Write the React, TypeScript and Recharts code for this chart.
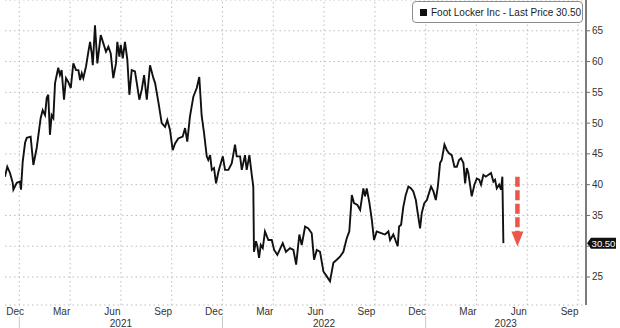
import { LineChart, Line, XAxis, YAxis, CartesianGrid, ReferenceLine, Legend } from 'recharts';

// time axis is in months since 1 Jan 2021 (fractional)
const priceMonths = [
  -0.85, -0.71, -0.55, -0.39, -0.35, -0.15, 0.04, 0.1, 0.2, 0.34,
  0.44, 0.67, 0.83, 1.03, 1.26, 1.38, 1.52, 1.62, 1.71, 1.81,
  1.91, 2.01, 2.11, 2.3, 2.4, 2.5, 2.64, 2.76, 2.89, 3.04,
  3.19, 3.35, 3.49, 3.59, 3.69, 3.78, 3.94, 4.08, 4.18, 4.28,
  4.34, 4.47, 4.61, 4.81, 4.96, 5.12, 5.26, 5.4, 5.55, 5.71,
  5.79, 5.91, 5.99, 6.11, 6.24, 6.38, 6.5, 6.64, 6.83, 6.94,
  7.09, 7.23, 7.37, 7.53, 7.72, 7.92, 8.02, 8.21, 8.41, 8.61,
  8.74, 8.9, 9.06, 9.2, 9.39, 9.65, 9.79, 9.92, 10.08, 10.28,
  10.48, 10.63, 10.77, 10.91, 11.07, 11.16, 11.27, 11.37, 11.5, 11.62,
  11.76, 12.02, 12.15, 12.35, 12.55, 12.74, 12.84, 13.04, 13.14, 13.33,
  13.43, 13.59, 13.73, 13.82, 13.86, 13.98, 14.06, 14.16, 14.26, 14.38,
  14.51, 14.71, 14.91, 15.05, 15.24, 15.56, 15.75, 15.99, 16.19, 16.35,
  16.54, 16.68, 16.88, 17.07, 17.27, 17.41, 17.57, 17.76, 17.96, 18.16,
  18.35, 18.55, 18.75, 18.94, 19.14, 19.34, 19.49, 19.64, 19.77, 19.97,
  20.13, 20.32, 20.42, 20.52, 20.68, 20.82, 20.95, 21.11, 21.41, 21.6,
  21.8, 21.9, 22.09, 22.35, 22.43, 22.55, 22.68, 22.82, 22.98, 23.14,
  23.27, 23.42, 23.53, 23.67, 23.77, 23.92, 24.07, 24.16, 24.32, 24.46,
  24.6, 24.72, 24.85, 24.95, 25.11, 25.25, 25.38, 25.54, 25.7, 25.84,
  25.97, 26.09, 26.23, 26.33, 26.43, 26.52, 26.62, 26.72, 26.88, 27.02,
  27.16, 27.27, 27.41, 27.55, 27.71, 27.86, 28.0, 28.1, 28.2, 28.34,
  28.45, 28.53, 28.59,
];

const prices = [
  41.3, 42.9, 41.9, 40.3, 39.2, 40.3, 40.5, 39.2, 43.7, 46.8,
  47.6, 47.8, 43.2, 46.0, 50.8, 52.1, 51.3, 54.1, 54.6, 48.1,
  51.3, 50.8, 56.5, 59.0, 57.8, 58.6, 53.8, 57.3, 56.7, 55.7,
  59.7, 58.6, 58.6, 57.0, 58.1, 57.3, 59.2, 61.6, 63.2, 61.3,
  59.4, 65.9, 59.7, 64.3, 63.0, 61.6, 62.4, 61.3, 57.3, 59.7,
  63.2, 60.8, 62.7, 60.5, 63.2, 60.3, 54.6, 58.6, 58.4, 56.5,
  53.8, 55.4, 57.8, 53.8, 59.4, 57.3, 56.5, 53.5, 50.0, 49.4,
  50.5, 48.9, 45.6, 46.7, 47.5, 47.8, 49.2, 47.0, 51.1, 54.3,
  55.7, 57.5, 51.2, 48.4, 44.6, 44.0, 44.8, 42.4, 42.7, 40.2,
  42.1, 44.6, 42.4, 42.4, 43.5, 46.5, 44.6, 44.6, 42.4, 44.8,
  42.4, 44.8, 41.6, 39.7, 29.1, 30.8, 30.0, 28.1, 30.2, 29.7,
  32.4, 31.0, 31.0, 29.4, 28.6, 30.5, 29.1, 29.7, 29.4, 27.0,
  31.9, 30.2, 33.2, 32.9, 32.1, 27.8, 29.4, 29.1, 25.9, 25.1,
  24.3, 27.3, 27.8, 28.3, 29.1, 31.3, 32.4, 38.3, 37.0, 36.7,
  35.9, 39.4, 38.1, 39.4, 37.0, 34.3, 31.0, 32.4, 32.1, 31.9,
  32.4, 31.0, 31.9, 30.0, 33.2, 33.5, 36.4, 38.3, 39.7, 39.4,
  38.9, 37.5, 35.4, 32.9, 35.4, 37.0, 37.5, 38.3, 39.7, 38.9,
  37.5, 39.7, 43.5, 44.0, 46.5, 45.6, 45.1, 44.8, 42.9, 42.9,
  44.0, 44.3, 43.5, 40.2, 42.7, 41.9, 40.0, 38.1, 40.0, 41.0,
  40.8, 40.0, 41.6, 41.3, 41.6, 41.9, 40.5, 40.8, 39.4, 40.0,
  39.2, 41.3, 30.5,
];

const seriesName = 'Foot Locker Inc - Last Price';
const lastPrice = 30.5;

const monthStarts = Array.from({ length: 34 }, (_, i) => i);
const quarterStarts = [0, 3, 6, 9, 12, 15, 18, 21, 24, 27, 30, 33];
const monthLabelTicks = [-0.25, 2.5, 5.5, 8.5, 11.5, 14.5, 17.5, 20.5, 23.5, 26.5, 29.5, 32.5];
const monthLabels = ['Dec', 'Mar', 'Jun', 'Sep', 'Dec', 'Mar', 'Jun', 'Sep', 'Dec', 'Mar', 'Jun', 'Sep'];
const yearTicks = [0, 6, 12, 18, 24, 28.73];
const yearLabels = ['', '2021', '', '2022', '', '2023'];
const priceTicks = [25, 30, 35, 40, 45, 50, 55, 60, 65];

// red "down" arrow next to the last drop
const arrowMonth = 29.42;
const arrowFrom = 41.3;
const arrowTo = 29.95;

const data = priceMonths.map((t, i) => ({ t, price: prices[i] }));

const FONT = '"Liberation Sans", Arial, sans-serif';
const X_DOMAIN: [number, number] = [-0.845, 33.47];

const PriceTick = ({ x, y, payload }: any) => {
  // the 30 label sits under the last-price tag
  if (payload.value === 30) return null;
  return (
    <text x={x} y={y} dy="0.35em" textAnchor="start" fontSize={10} fill="#333" fontFamily={FONT}>
      {payload.value}
    </text>
  );
};

const YearTick = ({ x, y, index }: any) => {
  const label = yearLabels[index];
  if (!label) {
    return <line x1={x} x2={x} y1={y - 3} y2={y + 12} stroke="#c8c8c8" strokeWidth={1} />;
  }
  return (
    <text x={x} y={y} dy="0.75em" textAnchor="middle" fontSize={10} fill="#333" fontFamily={FONT}>
      {label}
    </text>
  );
};

const PriceTag = ({ viewBox }: any) => {
  if (!viewBox) return null;
  const x = viewBox.x + viewBox.width;
  const y = viewBox.y;
  return (
    <g>
      <path d={`M${x + 1},${y} L${x + 5},${y - 5.5} H${x + 30} V${y + 5.5} H${x + 5} Z`} fill="#111" />
      <text x={x + 17.5} y={y} dy="0.36em" textAnchor="middle" fontSize={9.5} fill="#fff" fontFamily={FONT}>
        {lastPrice.toFixed(2)}
      </text>
    </g>
  );
};

const DownArrow = ({ x1, y1, y2 }: any) => {
  const head = 15;
  return (
    <g opacity={0.85}>
      <line x1={x1} x2={x1} y1={y1} y2={y2 - head + 2} stroke="#e8392c" strokeWidth={4.5} strokeDasharray="10 3.5" />
      <path d={`M${x1 - 6},${y2 - head} L${x1 + 6},${y2 - head} L${x1},${y2} Z`} fill="#e8392c" />
    </g>
  );
};

const LegendBox = () => (
  <div
    style={{
      boxSizing: 'border-box',
      width: 171,
      height: 22,
      border: '1px solid #8c8c8c',
      borderRadius: 4,
      background: '#fff',
      display: 'flex',
      alignItems: 'center',
      paddingLeft: 7,
      fontFamily: FONT,
      fontSize: 10,
      color: '#222',
      whiteSpace: 'nowrap',
    }}
  >
    <span style={{ display: 'inline-block', width: 7, height: 7, background: '#111', marginRight: 4 }} />
    {seriesName} {lastPrice.toFixed(2)}
  </div>
);

export default function App() {
  return (
    <div style={{ position: 'absolute', left: 0, top: 0, width: 620, height: 328, background: '#fff' }}>
      <LineChart width={620} height={328} data={data} margin={{ top: 0, right: 0, bottom: 0, left: 5 }}>
        <CartesianGrid vertical={false} stroke="#bdbdbd" strokeDasharray="1.5 3" />
        {quarterStarts.map((q) => (
          <ReferenceLine key={q} x={q} stroke="#bdbdbd" strokeDasharray="1.5 3" />
        ))}
        <XAxis
          dataKey="t"
          type="number"
          domain={X_DOMAIN}
          allowDataOverflow
          ticks={monthStarts}
          interval={0}
          tick={false}
          tickSize={3}
          height={0}
          axisLine={{ stroke: '#6e6e6e', strokeWidth: 1.8 }}
          tickLine={{ stroke: '#6e6e6e' }}
        />
        <XAxis
          xAxisId="months"
          dataKey="t"
          type="number"
          domain={X_DOMAIN}
          allowDataOverflow
          ticks={monthLabelTicks}
          interval={0}
          tickFormatter={(_v: number, i: number) => monthLabels[i]}
          tick={{ fontSize: 10, fill: '#333', fontFamily: FONT }}
          axisLine={false}
          tickLine={false}
          tickSize={0}
          tickMargin={3}
          height={12}
        />
        <XAxis
          xAxisId="years"
          dataKey="t"
          type="number"
          domain={X_DOMAIN}
          allowDataOverflow
          ticks={yearTicks}
          interval={0}
          tick={<YearTick />}
          axisLine={false}
          tickLine={false}
          tickSize={0}
          tickMargin={2}
          height={11}
        />
        <YAxis
          orientation="right"
          domain={[20.45, 70]}
          allowDataOverflow
          ticks={priceTicks}
          interval={0}
          width={34}
          tick={<PriceTick />}
          tickSize={4}
          tickMargin={2}
          axisLine={{ stroke: '#6e6e6e', strokeWidth: 1.8 }}
          tickLine={{ stroke: '#6e6e6e' }}
        />
        <Legend
          verticalAlign="middle"
          content={<LegendBox />}
          wrapperStyle={{ top: 1, left: 412, width: 171, height: 22 }}
        />
        <Line
          type="linear"
          dataKey="price"
          name={seriesName}
          stroke="#111"
          strokeWidth={1.9}
          dot={false}
          activeDot={false}
          isAnimationActive={false}
        />
        <ReferenceLine y={lastPrice} stroke="none" label={<PriceTag />} />
        <ReferenceLine
          segment={[
            { x: arrowMonth, y: arrowFrom },
            { x: arrowMonth, y: arrowTo },
          ]}
          shape={<DownArrow />}
        />
      </LineChart>
    </div>
  );
}
